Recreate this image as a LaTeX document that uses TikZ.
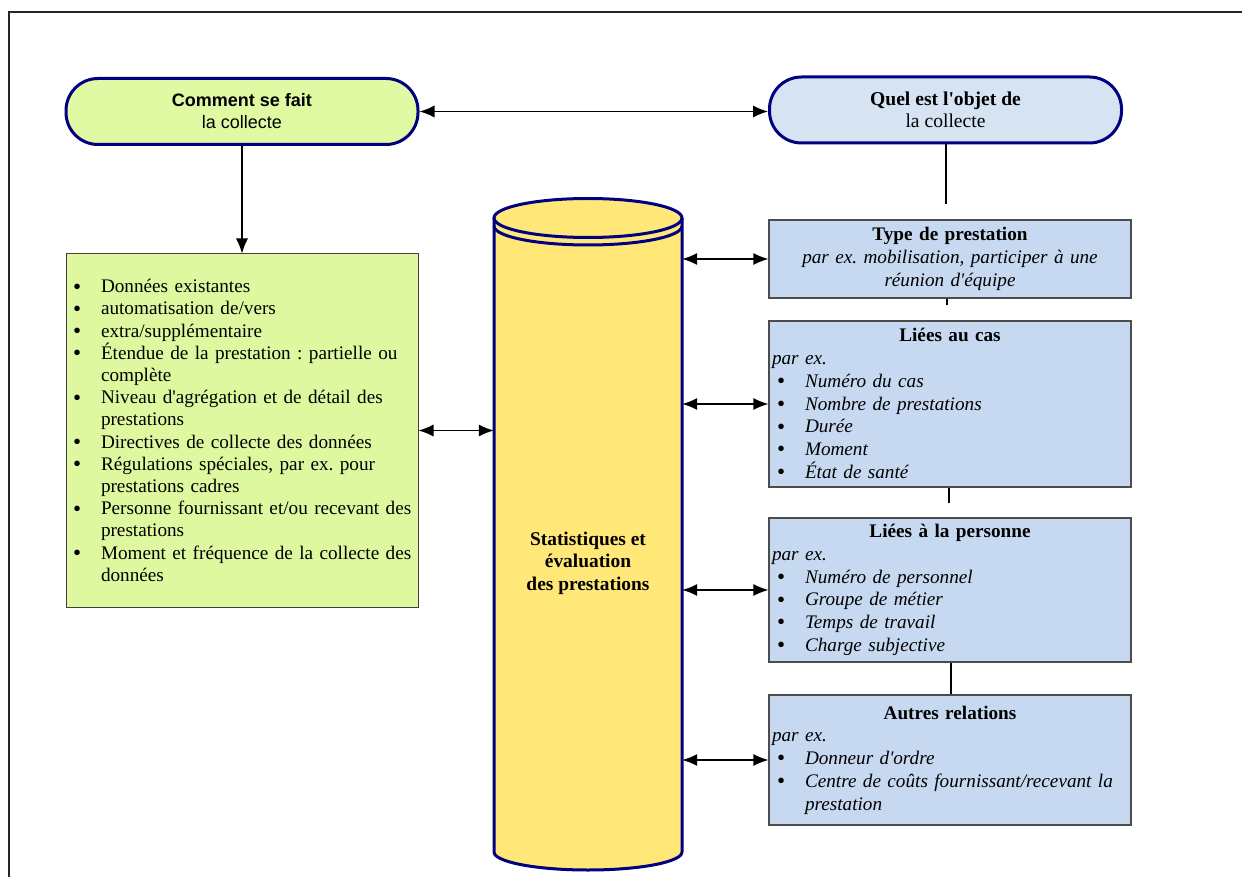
\documentclass[tikz,border=0pt]{standalone}
\usepackage{fontspec}
\setmainfont{Liberation Serif}
\setsansfont{Liberation Sans}
\usetikzlibrary{arrows.meta}
\definecolor{pillgreen}{RGB}{224,249,163}
\definecolor{boxgreen}{RGB}{222,248,160}
\definecolor{pillblue}{RGB}{214,227,243}
\definecolor{boxblue}{RGB}{198,217,240}
\definecolor{cylyellow}{RGB}{255,232,120}
\definecolor{navy}{RGB}{0,0,128}
\newcommand\aq{\textquotesingle}
\newcommand\bul{{\upshape\raisebox{-1.3pt}{\scalebox{1.2}{\textbullet}}}}
\newcommand\gb[1]{\makebox[28pt][l]{\bul}\mbox{#1}}
\newcommand\gc[1]{\hspace*{28pt}\mbox{#1}}
\newcommand\rb[1]{\hspace*{5pt}\makebox[28pt][l]{\bul}\mbox{#1}}
\newcommand\rc[1]{\hspace*{33pt}\mbox{#1}}
\newcommand\ttl[1]{\makebox[\linewidth][c]{\bfseries\upshape #1}}
\frenchspacing
\begin{document}
\frenchspacing
\begin{tikzpicture}[x=1pt,y=-1pt,
  pill/.style={draw=navy, line width=3pt, rounded corners=32pt, minimum width=352pt, minimum height=66pt, align=center, inner sep=0pt},
  gboxst/.style={draw=black!75, line width=1pt, fill=boxgreen, minimum width=352pt, minimum height=353pt, text width=338pt, inner xsep=7pt, inner ysep=0pt, align=left, font=\fontsize{19.2}{22.2}\selectfont\frenchspacing},
  rbox/.style={draw=black!70, line width=1.2pt, fill=boxblue, minimum width=362pt, text width=356pt, inner xsep=3pt, inner ysep=0pt, align=left, font=\fontsize{19.2}{22.7}\selectfont\itshape\frenchspacing},
  link/.style={line width=1.2pt},
  dbl/.style={line width=1.2pt, {Latex[length=15pt,width=12pt]}-{Latex[length=15pt,width=12pt]}},
  sgl/.style={line width=1.2pt, -{Latex[length=15pt,width=12pt]}},
  cylline/.style={draw=navy, line width=3pt}
]
\useasboundingbox (0,0) rectangle (1242,877);
\fill[white] (0,0) rectangle (1242,877);
\draw[line width=1.5pt, black!85] (9,877) -- (9,12) -- (1242,12);

% pills
\node[pill, fill=pillgreen, font=\sffamily\fontsize{18}{22}\selectfont] (lpill) at (242,111.5) {\textbf{Comment se fait}\\la collecte};
\node[pill, fill=pillblue, font=\fontsize{19.6}{22}\selectfont] (rpill) at (945.5,110) {\textbf{Quel est l\aq objet de}\\la collecte};

% green box
\node[gboxst] (gbox) at (242,430.5) {%
\gb{Données existantes}\\
\gb{automatisation de/vers}\\
\gb{extra/supplémentaire}\\
\gb{Étendue de la prestation : partielle ou}\\
\gc{complète}\\
\gb{Niveau d\aq agrégation et de détail des}\\
\gc{prestations}\\
\gb{Directives de collecte des données}\\
\gb{Régulations spéciales, par ex. pour}\\
\gc{prestations cadres}\\
\gb{Personne fournissant et/ou recevant des}\\
\gc{prestations}\\
\gb{Moment et fréquence de la collecte des}\\
\gc{données}};

% cylinder
\node[minimum width=188pt, minimum height=634pt, inner sep=0pt] (cyl) at (588,535) {};
\fill[cylyellow] (494,218) -- (494,852) arc[start angle=180,end angle=360,x radius=94pt,y radius=18pt] -- (682,218) arc[start angle=0,end angle=180,x radius=94pt,y radius=19.5pt] -- cycle;
\draw[cylline] (494,218) -- (494,852) arc[start angle=180,end angle=360,x radius=94pt,y radius=18pt] -- (682,218);
\draw[cylline] (588,218) ellipse [x radius=94pt, y radius=19.5pt];
\draw[cylline] (494,226) arc[start angle=180,end angle=360,x radius=94pt,y radius=19pt];
\node[font=\bfseries\fontsize{19.4}{22.5}\selectfont, align=center] (cyltxt) at (588,563) {Statistiques et\\évaluation\\des prestations};

% right boxes
\node[rbox, minimum height=78pt, align=center] (t1) at (950,259) {{\bfseries\upshape Type de prestation}\\par ex. mobilisation, participer à une\\réunion d\aq équipe};
\node[rbox, minimum height=166pt] (t2) at (950,404) {%
\ttl{Liées au cas}\\
par ex.\\
\rb{Numéro du cas}\\
\rb{Nombre de prestations}\\
\rb{Durée}\\
\rb{Moment}\\
\rb{État de santé}};
\node[rbox, minimum height=144pt] (t3) at (950,590) {%
\ttl{Liées à la personne}\\
par ex.\\
\rb{Numéro de personnel}\\
\rb{Groupe de métier}\\
\rb{Temps de travail}\\
\rb{Charge subjective}};
\node[rbox, minimum height=130pt] (t4) at (950,760) {%
\ttl{Autres relations}\\
par ex.\\
\rb{Donneur d\aq ordre}\\
\rb{Centre de coûts fournissant/recevant la}\\
\rc{prestation}};

% connectors
\draw[dbl] (lpill.east) -- (lpill.east -| rpill.west);
\draw[sgl] (lpill.south) -- (gbox.north);
\draw[dbl] (gbox.east) -- (gbox.east -| cyl.west);
\draw[dbl] (t1.west -| cyl.east) -- (t1.west);
\draw[dbl] (t2.west -| cyl.east) -- (t2.west);
\draw[dbl] (t3.west -| cyl.east) -- (t3.west);
\draw[dbl] (t4.west -| cyl.east) -- (t4.west);

\coordinate (s0) at (946,204);
\coordinate (s1) at (947,305);
\coordinate (s2) at (949,503);
\coordinate (s3) at (951,600);
\draw[link] (s0 |- rpill.south) -- (s0);
\draw[link] (s1 |- t1.south) -- (s1);
\draw[link] (s2 |- t2.south) -- (s2);
\draw[link] (s3 |- t3.south) -- (s3 |- t4.north);
\end{tikzpicture}
\end{document}
